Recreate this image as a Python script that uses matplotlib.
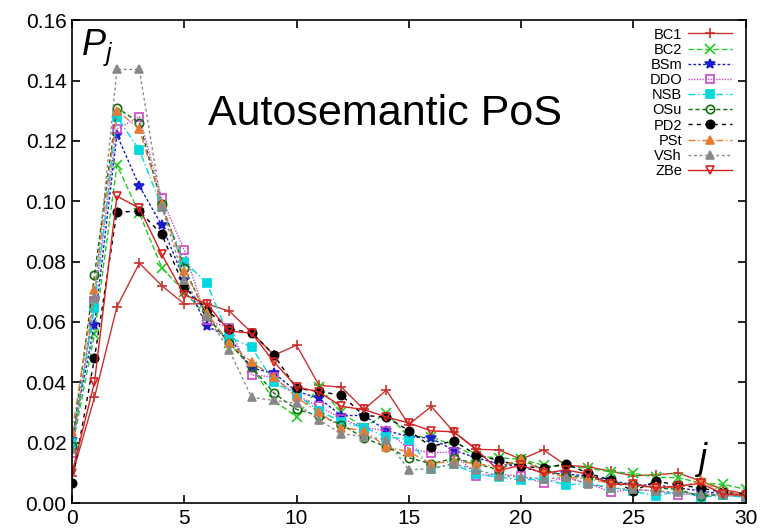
import matplotlib.pyplot as plt

plt.rcParams['font.family'] = ['Liberation Sans', 'DejaVu Sans']
plt.rcParams['mathtext.fontset'] = 'custom'
plt.rcParams['mathtext.it'] = 'Liberation Sans:italic'
plt.rcParams['mathtext.rm'] = 'Liberation Sans'

# j values 0..30
j = list(range(31))

bc1 = [0.009, 0.035, 0.065, 0.0795, 0.072, 0.066, 0.066, 0.0636, 0.0565, 0.049,
       0.0523, 0.039, 0.0384, 0.031, 0.0374, 0.026, 0.032, 0.0236, 0.0178, 0.0176,
       0.0145, 0.0176, 0.0125, 0.012, 0.0105, 0.009, 0.0094, 0.0099, 0.0073, 0.0045, 0.003]
bc2 = [0.018, 0.056, 0.112, 0.096, 0.078, 0.070, 0.062, 0.053, 0.045, 0.034,
       0.0285, 0.0385, 0.030, 0.025, 0.0297, 0.022, 0.022, 0.019, 0.0155, 0.015,
       0.0145, 0.0125, 0.012, 0.0115, 0.0103, 0.0099, 0.0085, 0.0084, 0.0066, 0.0062, 0.0045]
bsm = [0.021, 0.059, 0.122, 0.105, 0.092, 0.074, 0.0586, 0.055, 0.0447, 0.043,
       0.037, 0.0347, 0.029, 0.029, 0.024, 0.022, 0.0215, 0.0175, 0.015, 0.013,
       0.012, 0.010, 0.0095, 0.009, 0.0075, 0.006, 0.006, 0.005, 0.004, 0.003, 0.0025]
ddo = [0.0165, 0.067, 0.124, 0.128, 0.101, 0.0838, 0.0606, 0.058, 0.0424, 0.0418,
       0.0357, 0.032, 0.028, 0.025, 0.024, 0.018, 0.0166, 0.0169, 0.0091, 0.0095,
       0.009, 0.0066, 0.0085, 0.0065, 0.0036, 0.0045, 0.004, 0.0028, 0.003, 0.0025, 0.002]
nsb = [0.0199, 0.0645, 0.128, 0.117, 0.098, 0.080, 0.073, 0.055, 0.0516, 0.040,
       0.036, 0.0305, 0.027, 0.025, 0.022, 0.021, 0.0114, 0.013, 0.0095, 0.0086,
       0.0076, 0.008, 0.006, 0.0065, 0.005, 0.004, 0.0022, 0.004, 0.002, 0.0025, 0.002]
osu = [0.019, 0.0755, 0.131, 0.126, 0.099, 0.078, 0.062, 0.053, 0.045, 0.0364,
       0.031, 0.029, 0.026, 0.0216, 0.0186, 0.015, 0.013, 0.0148, 0.0131, 0.011,
       0.0145, 0.011, 0.009, 0.0085, 0.007, 0.006, 0.005, 0.0045, 0.0022, 0.003, 0.0025]
pd2 = [0.0066, 0.048, 0.0964, 0.0967, 0.089, 0.0716, 0.064, 0.0576, 0.0565, 0.049,
       0.038, 0.037, 0.0357, 0.029, 0.0285, 0.024, 0.0187, 0.0206, 0.016, 0.0141,
       0.0123, 0.0115, 0.013, 0.0098, 0.0076, 0.004, 0.0072, 0.006, 0.005, 0.0035, 0.003]
pst = [0.0235, 0.0705, 0.130, 0.124, 0.099, 0.077, 0.063, 0.053, 0.0467, 0.0418,
       0.035, 0.030, 0.025, 0.024, 0.0186, 0.017, 0.013, 0.014, 0.013, 0.012,
       0.0145, 0.0105, 0.0085, 0.008, 0.0065, 0.006, 0.0055, 0.005, 0.0075, 0.0035, 0.003]
vsh = [0.018, 0.068, 0.1437, 0.1437, 0.098, 0.074, 0.062, 0.0507, 0.035, 0.034,
       0.033, 0.0275, 0.023, 0.022, 0.021, 0.011, 0.0114, 0.013, 0.011, 0.009,
       0.0087, 0.008, 0.0085, 0.0062, 0.005, 0.0045, 0.004, 0.0035, 0.003, 0.003, 0.002]
zbe = [0.0099, 0.040, 0.1017, 0.0977, 0.0824, 0.069, 0.066, 0.057, 0.0563, 0.0467,
       0.0385, 0.0368, 0.032, 0.031, 0.0285, 0.0265, 0.0239, 0.0236, 0.0178, 0.0108,
       0.0125, 0.0098, 0.011, 0.0095, 0.0062, 0.0062, 0.005, 0.0056, 0.0065, 0.003, 0.0025]

# name, data, color, marker, linestyle, filled
series = [
    ("BC1", bc1, "#c8322c", "+", "-", True),
    ("BC2", bc2, "#22cc22", "x", (0, (4, 2)), True),
    ("BSm", bsm, "#1c1ccc", "*", (0, (2, 1.5)), True),
    ("DDO", ddo, "#cc44cc", "s", (0, (1, 1)), False),
    ("NSB", nsb, "#00d8e0", "s", (0, (5, 2, 1, 2)), True),
    ("OSu", osu, "#106a10", "o", (0, (3, 2)), False),
    ("PD2", pd2, "#000000", "o", (0, (3, 3)), True),
    ("PSt", pst, "#e87b30", "^", (0, (5, 2, 1, 2)), True),
    ("VSh", vsh, "#888888", "^", (0, (2, 2)), True),
    ("ZBe", zbe, "#d42020", "v", "-", False),
]

fig = plt.figure(figsize=(7.62, 5.32), dpi=100)
ax = fig.add_axes([0.0945, 0.0545, 0.884, 0.9075])

for name, vals, col, mk, ls, filled in series:
    ax.plot(j, vals, color=col, linestyle=ls, linewidth=1.0, marker=mk,
            markersize=7 if mk in "+x*" else 6,
            markerfacecolor=col if filled else "none",
            markeredgecolor=col, markeredgewidth=1.2, label=name)

ax.set_xlim(0, 30)
ax.set_ylim(0, 0.16)
ax.set_xticks([0, 5, 10, 15, 20, 25, 30])
ax.set_yticks([0.00, 0.02, 0.04, 0.06, 0.08, 0.10, 0.12, 0.14, 0.16])
ax.set_yticklabels(["0.00", "0.02", "0.04", "0.06", "0.08", "0.10", "0.12", "0.14", "0.16"])
ax.tick_params(direction="in", top=True, right=True, length=6, width=1.2,
               labelsize=15, pad=4)
for sp in ax.spines.values():
    sp.set_linewidth(1.2)

ax.text(0.465, 0.805, "Autosemantic PoS", transform=ax.transAxes,
        fontsize=31, ha="center", va="center")
ax.text(0.013, 0.985, "$P_j$", transform=ax.transAxes, fontsize=26,
        ha="left", va="top")
ax.text(0.935, 0.09, "$j$", transform=ax.transAxes, fontsize=26,
        ha="center", va="center")

ax.legend(loc="upper right", markerfirst=False, frameon=False, fontsize=10.5,
          handlelength=3.0, labelspacing=0.08, handletextpad=0.4,
          borderaxespad=0.1, bbox_to_anchor=(0.99, 1.0))

fig.savefig("out.png", dpi=100)
